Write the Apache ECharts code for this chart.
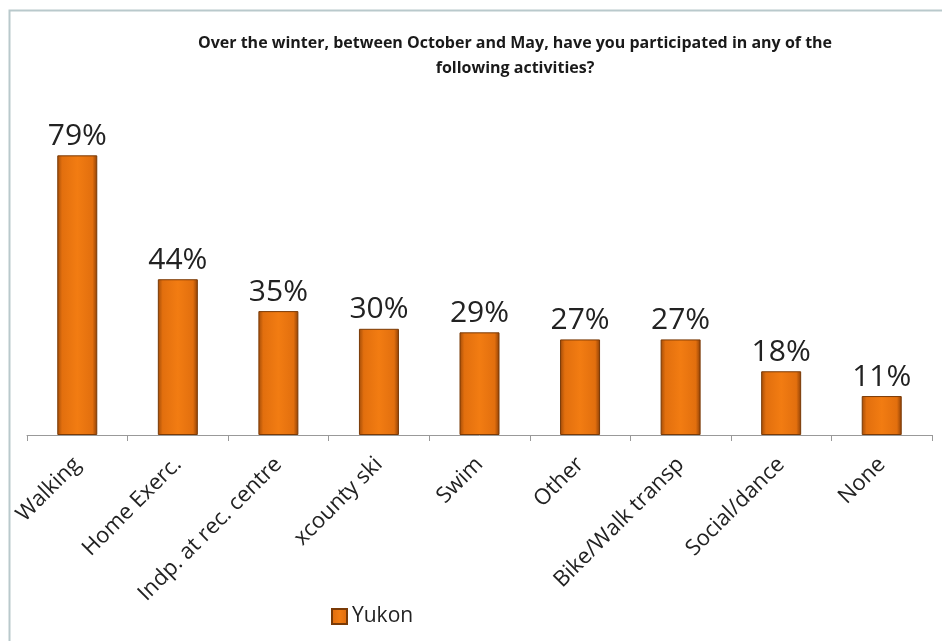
<!DOCTYPE html>
<html>
<head>
<meta charset="utf-8">
<script src="https://cdn.jsdelivr.net/npm/echarts@6/dist/echarts.min.js"></script>
<style>
  html, body { margin: 0; padding: 0; background: #fff; }
  #chart { width: 942px; height: 641px; }
</style>
</head>
<body>
<div id="chart"></div>
<script>
var categories = ["Walking", "Home Exerc.", "Indp. at rec. centre", "xcounty ski", "Swim", "Other", "Bike/Walk transp", "Social/dance", "None"];
var yukon = [79, 44, 35, 30, 29, 27, 27, 18, 11];

var chart = echarts.init(document.getElementById("chart"));

var barColor = new echarts.graphic.LinearGradient(0, 0, 1, 0, [
  { offset: 0, color: "#a24c08" },
  { offset: 0.12, color: "#e26f0e" },
  { offset: 0.5, color: "#f27c12" },
  { offset: 0.88, color: "#e26f0e" },
  { offset: 1, color: "#8e4006" }
]);

chart.setOption({
  animation: false,
  textStyle: { fontFamily: "Open Sans" },
  graphic: [{
    type: "polyline",
    shape: { points: [[9.5, 641], [9.5, 10.5], [942, 10.5]] },
    style: { stroke: "#b9c9cc", lineWidth: 2, fill: null }
  }],
  title: {
    text: "Over the winter, between October and May, have you participated in any of the\nfollowing activities?",
    left: 510,
    top: 26,
    textAlign: "center",
    textStyle: { fontSize: 16, fontWeight: "bold", color: "#1a1a1a", lineHeight: 25, fontFamily: "Open Sans" }
  },
  legend: {
    data: ["Yukon"],
    left: 326,
    top: 601,
    itemWidth: 15,
    itemHeight: 15,
    itemGap: 6,
    icon: "rect",
    textStyle: { fontSize: 21, color: "#222" }
  },
  grid: { left: 27, right: 10, top: 81, bottom: 206 },
  xAxis: {
    type: "category",
    data: categories,
    axisLine: { lineStyle: { color: "#999", width: 1 } },
    axisTick: { show: true, alignWithLabel: false, length: 6, lineStyle: { color: "#999" } },
    axisLabel: { rotate: 45, fontSize: 22, color: "#222", margin: 26, interval: 0 }
  },
  yAxis: {
    type: "value",
    min: 0,
    max: 100,
    show: false,
    splitLine: { show: false }
  },
  series: [{
    name: "Yukon",
    type: "bar",
    data: yukon,
    barWidth: 40,
    itemStyle: { color: barColor, borderColor: "#7a3a06", borderWidth: 1 },
    label: {
      show: true,
      position: "top",
      distance: 4,
      formatter: "{c}%",
      fontSize: 30,
      color: "#222"
    }
  }]
});
</script>
</body>
</html>
